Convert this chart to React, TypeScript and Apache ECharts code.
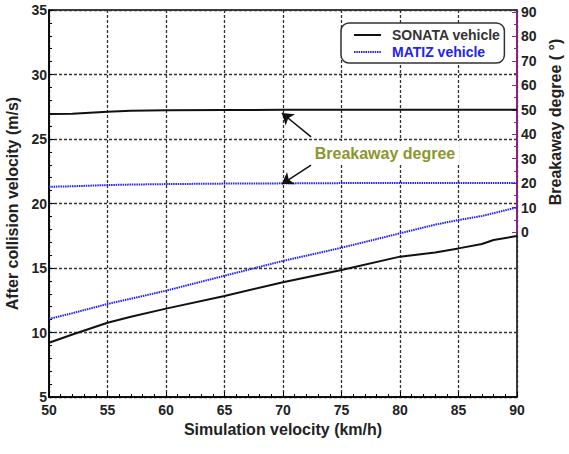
import React, { useEffect, useRef } from "react";
import * as echarts from "echarts";

// Simulation speeds (km/h) where the curves are sampled
const simVelocity = [50, 52, 55, 57, 60, 65, 70, 75, 80, 83, 85, 87, 88, 90];
// After-collision velocity (m/s)
const sonataVelocity = [9.21, 9.85, 10.76, 11.22, 11.85, 12.83, 13.9, 14.85, 15.88, 16.2, 16.52, 16.86, 17.17, 17.48];
const matizVelocity = [11.05, 11.5, 12.21, 12.62, 13.24, 14.4, 15.55, 16.57, 17.69, 18.36, 18.72, 19.03, 19.25, 19.7];
// Breakaway degree (°)
const sonataDegree = [48.3, 48.4, 49.2, 49.6, 49.8, 49.9, 50, 50, 50, 50, 50, 50, 50, 50];
const matizDegree = [18.5, 18.7, 19.2, 19.4, 19.6, 19.8, 19.9, 20, 20, 20, 20, 20, 20, 20];

const seriesNames = ["SONATA vehicle", "MATIZ vehicle"];
const annotationText = "Breakaway degree";

const FONT = '"Liberation Sans", Arial, sans-serif';
const MAGENTA = "#a0208f";
const BLUE = "#2323ee";

const pairs = (ys: number[]) => simVelocity.map((x, i) => [x, ys[i]]);

export default function App() {
  const ref = useRef<HTMLDivElement>(null);

  useEffect(() => {
    if (!ref.current) return;
    const chart = echarts.init(ref.current, null, { renderer: "svg" });

    const gridLine = { show: true, lineStyle: { color: "#333", width: 1.3, type: [3, 2] } };
    const tickLabel = { fontFamily: FONT, fontWeight: "bold", fontSize: 14, color: "#222" };
    const nameText = { fontFamily: FONT, fontWeight: "bold", fontSize: 16, color: "#222" };
    const blueLine = { color: BLUE, width: 2, type: [1.5, 0.8] };

    chart.setOption({
      animation: false,
      backgroundColor: "#fff",
      grid: [
        { left: 49, right: 52, top: 10, bottom: 57, show: true, borderColor: "#000", borderWidth: 1.5, outerBoundsMode: "none" },
        { left: 49, right: 52, top: 12, height: 220, outerBoundsMode: "none" },
      ],
      legend: {
        orient: "vertical",
        left: 341,
        top: 23,
        padding: [5, 4, 4, 12],
        itemGap: 3,
        itemWidth: 27,
        itemHeight: 14,
        backgroundColor: "#fff",
        borderColor: "#333",
        borderWidth: 1.5,
        borderRadius: 8,
        // line-only legend keys
        itemStyle: { opacity: 0 },
        textStyle: { fontFamily: FONT, fontWeight: "bold", fontSize: 14, padding: [0, 0, 0, 6] },
        data: [
          { name: seriesNames[0], textStyle: { color: "#333" } },
          { name: seriesNames[1], textStyle: { color: BLUE } },
        ],
      },
      xAxis: [
        {
          type: "value",
          gridIndex: 0,
          min: 50,
          max: 90,
          interval: 5,
          name: "Simulation velocity (km/h)",
          nameLocation: "middle",
          nameGap: 24,
          nameTextStyle: nameText,
          axisLine: { lineStyle: { color: "#000", width: 1.5 } },
          axisTick: { inside: true, length: 5, lineStyle: { color: "#000" } },
          minorTick: { show: true, splitNumber: 5, length: 3, lineStyle: { color: "#000" } },
          axisLabel: { ...tickLabel, margin: 6 },
          splitLine: gridLine,
        },
        { type: "value", gridIndex: 1, min: 50, max: 90, show: false },
      ],
      yAxis: [
        {
          type: "value",
          gridIndex: 0,
          min: 5,
          max: 35,
          interval: 5,
          name: "After collision velocity (m/s)",
          nameLocation: "middle",
          nameGap: 26,
          nameRotate: 90,
          nameTextStyle: nameText,
          axisLine: { lineStyle: { color: "#000", width: 1.5 } },
          axisTick: { inside: true, length: 5, lineStyle: { color: "#000" } },
          minorTick: { show: true, splitNumber: 5, length: 3, lineStyle: { color: "#000" } },
          axisLabel: { ...tickLabel, margin: 2 },
          splitLine: gridLine,
        },
        {
          type: "value",
          gridIndex: 1,
          position: "right",
          min: 0,
          max: 90,
          interval: 10,
          name: "Breakaway degree ( °)",
          nameLocation: "middle",
          nameGap: 27,
          nameRotate: 90,
          nameTextStyle: nameText,
          axisLine: { show: true, lineStyle: { color: MAGENTA, width: 1.5 } },
          axisTick: { show: true, inside: true, length: 5, lineStyle: { color: MAGENTA } },
          minorTick: { show: true, splitNumber: 2, length: 3, lineStyle: { color: MAGENTA } },
          axisLabel: { ...tickLabel, margin: 4 },
          splitLine: { show: false },
        },
      ],
      series: [
        {
          name: seriesNames[0],
          type: "line",
          xAxisIndex: 0,
          yAxisIndex: 0,
          symbol: "none",
          lineStyle: { color: "#111", width: 2 },
          itemStyle: { color: "#111" },
          data: pairs(sonataVelocity),
          z: 3,
        },
        {
          name: seriesNames[1],
          type: "line",
          xAxisIndex: 0,
          yAxisIndex: 0,
          symbol: "none",
          lineStyle: blueLine,
          itemStyle: { color: BLUE },
          data: pairs(matizVelocity),
          z: 3,
        },
        {
          name: seriesNames[0],
          type: "line",
          xAxisIndex: 1,
          yAxisIndex: 1,
          symbol: "none",
          lineStyle: { color: "#111", width: 2 },
          itemStyle: { color: "#111" },
          data: pairs(sonataDegree),
          z: 3,
          markLine: {
            silent: true,
            symbol: ["none", "arrow"],
            symbolSize: 11,
            label: { show: false },
            lineStyle: { color: "#111", width: 1.5, type: "solid" },
            data: [
              [{ coord: [72.4, 38.9] }, { coord: [69.9, 48.7] }],
              [{ coord: [72.4, 27.4] }, { coord: [69.9, 19.6] }],
            ],
          },
        },
        {
          name: seriesNames[1],
          type: "line",
          xAxisIndex: 1,
          yAxisIndex: 1,
          symbol: "none",
          lineStyle: blueLine,
          itemStyle: { color: BLUE },
          data: pairs(matizDegree),
          z: 3,
        },
      ],
      graphic: [
        {
          type: "text",
          x: 385,
          y: 153,
          z: 100,
          style: {
            text: annotationText,
            fill: "#8c962e",
            font: `bold 16px ${FONT}`,
            align: "center",
            verticalAlign: "middle",
            backgroundColor: "#fff",
            padding: [4, 4],
          },
        },
      ],
    });

    return () => chart.dispose();
  }, []);

  return (
    <div
      ref={ref}
      style={{ position: "fixed", left: 0, top: 0, width: 569, height: 454, background: "#fff" }}
    />
  );
}
